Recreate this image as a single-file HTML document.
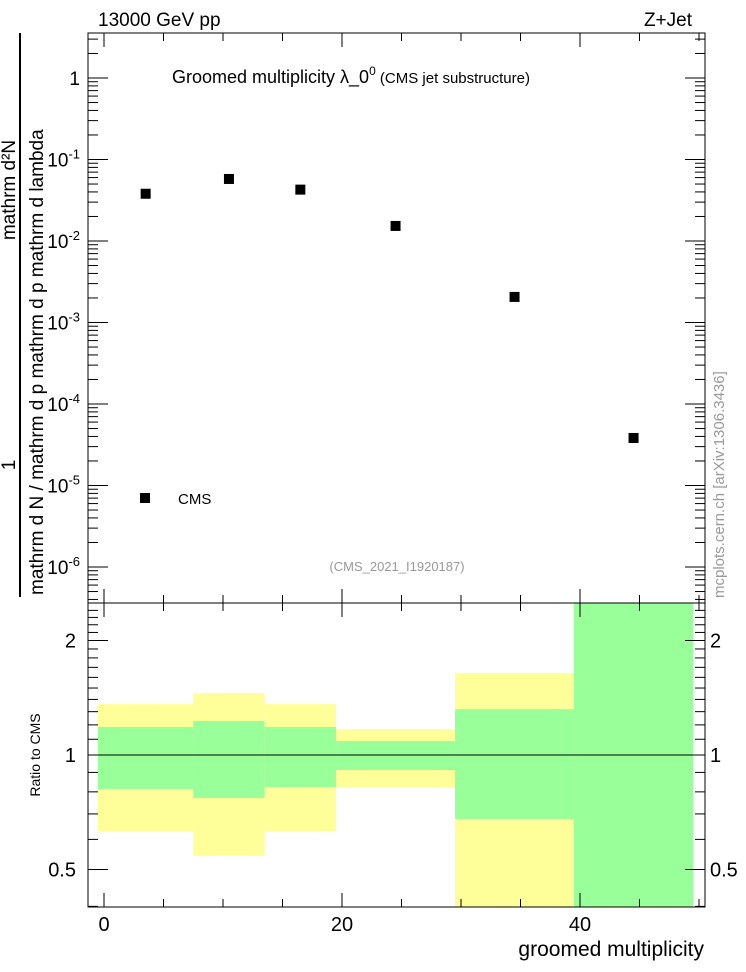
<!DOCTYPE html>
<html><head><meta charset="utf-8"><style>
body{margin:0;background:#fff;}
svg{display:block;font-family:"Liberation Sans",sans-serif;}
</style></head><body>
<svg id="c" width="746" height="972" viewBox="0 0 746 972" xmlns="http://www.w3.org/2000/svg">
<g id="bands"></g>
<g id="marks"></g>
<g id="axes"></g>
<text x="98" y="26" font-size="19">13000 GeV pp</text>
<text x="692" y="26" font-size="19" text-anchor="end">Z+Jet</text>
<text x="172" y="83" font-size="18">Groomed multiplicity  λ_0<tspan dy="-8" font-size="12">0</tspan><tspan dy="8" font-size="15"> (CMS jet substructure)</tspan></text>
<text x="397" y="571" font-size="13" fill="#999" text-anchor="middle">(CMS_2021_I1920187)</text>
<text transform="translate(724,598) rotate(-90)" font-size="15" fill="#999">mcplots.cern.ch [arXiv:1306.3436]</text>
<rect x="140" y="493" width="10" height="10" fill="#000"/>
<text x="178" y="504" font-size="15">CMS</text>
<g font-size="19">
<line x1="20" y1="33" x2="20" y2="597" stroke="#000" stroke-width="2"/>
<text transform="translate(15,190) rotate(-90)" text-anchor="middle">mathrm d²N</text>
<text transform="translate(15,465) rotate(-90)" text-anchor="middle">1</text>
<text transform="translate(43,595) rotate(-90)" text-anchor="start">mathrm d N / mathrm d p   mathrm d p   mathrm d lambda</text>
</g>
<text transform="translate(40,755) rotate(-90)" font-size="14" text-anchor="middle">Ratio to CMS</text>
<text x="704" y="956" font-size="21" text-anchor="end">groomed multiplicity</text>
</svg>
<script>
const categories = [3.5, 10.5, 16.5, 24.5, 34.5, 44.5];
const binEdges = [-0.5, 7.5, 13.5, 19.5, 29.5, 39.5, 49.5];
const cmsValues = [0.038, 0.0577, 0.0427, 0.0153, 0.00206, 0.0000383];
const yellowLow = [0.63, 0.543, 0.63, 0.824, 0.3, 0.3];
const yellowHigh = [1.36, 1.455, 1.36, 1.17, 1.643, 3];
const greenLow = [0.814, 0.771, 0.824, 0.913, 0.679, 0.3];
const greenHigh = [1.185, 1.229, 1.185, 1.088, 1.32, 3];
const xTicks = [0, 20, 40];
const logTicks = [0, -1, -2, -3, -4, -5, -6];
const ratioTicks = [0.5, 1, 2];

const NS = "http://www.w3.org/2000/svg";
const L = 88, R = 705, T1 = 33, B1 = 603, T2 = 603, B2 = 907;
const xs = v => 104 + 11.9 * v;
const ys = v => 78 - 81.5 * Math.log10(v);
const yr = v => Math.min(B2, Math.max(T2, 755 - 114.5 * Math.log2(v)));
function mk(tag, attrs, parent) { const e = document.createElementNS(NS, tag); for (const k in attrs) e.setAttribute(k, attrs[k]); parent.appendChild(e); return e; }
const bands = document.getElementById('bands'), marks = document.getElementById('marks'), axes = document.getElementById('axes');

for (let i = 0; i < categories.length; i++) {
  const x0 = xs(binEdges[i]), x1 = xs(binEdges[i + 1]);
  const y = mk('rect', { x: x0, y: yr(yellowHigh[i]), width: x1 - x0, height: yr(yellowLow[i]) - yr(yellowHigh[i]), fill: '#ffff99' }, bands);
  
  
  const g = mk('rect', { x: x0, y: yr(greenHigh[i]), width: x1 - x0, height: yr(greenLow[i]) - yr(greenHigh[i]), fill: '#99ff99' }, bands);
  
  
  const p = mk('rect', { x: xs(categories[i]) - 5, y: ys(cmsValues[i]) - 5, width: 10, height: 10, fill: '#000' }, marks);
  
  
}
const ref = mk('line', { x1: L, x2: R, y1: yr(1), y2: yr(1), stroke: '#000', 'stroke-width': 1 }, axes);



function ln(x1, y1, x2, y2) { mk('line', { x1, y1, x2, y2, stroke: '#000', 'stroke-width': 1 }, axes); }
function tx(x, y, s, anchor, size) { const t = mk('text', { x, y, 'font-size': size || 19, 'text-anchor': anchor }, axes); t.textContent = s; return t; }
mk('rect', { x: L, y: T1, width: R - L, height: B1 - T1, fill: 'none', stroke: '#000' }, axes);
mk('rect', { x: L, y: T2, width: R - L, height: B2 - T2, fill: 'none', stroke: '#000' }, axes);
for (let v = 0; v <= 50; v += 5) {
  const x = xs(v); if (x > R) continue;
  const len = v % 20 === 0 ? 14 : 8;
  ln(x, B1, x, B1 - len); ln(x, T1, x, T1 + len);
  ln(x, B2, x, B2 - len); ln(x, T2, x, T2 + len);
}
xTicks.forEach(v => { const t = tx(xs(v), 931, String(v), 'middle', 20);  });
for (let d = -7; d <= 0; d++) {
  for (let m = 1; m < 10; m++) {
    const y = ys(m * Math.pow(10, d)); if (y < T1 || y > B1) continue;
    const len = m === 1 ? 20 : 10;
    ln(L, y, L + len, y); ln(R, y, R - len, y);
  }
}
logTicks.forEach(e => {
  const y = ys(Math.pow(10, e));
  if (e === 0) { tx(80, y + 7, '1', 'end', 19); }
  else {
    const t = mk('text', { x: 80, y: y + 7, 'font-size': 19, 'text-anchor': 'end' }, axes);
    t.innerHTML = '10<tspan dy="-8" font-size="13">' + e + '</tspan>';
  }
});
for (let v = 0.4; v <= 2.5; v += 0.1) {
  const y = yr(v); if (y <= T2 || y >= B2) continue;
  const major = [0.5, 1, 2].some(r => Math.abs(r - v) < 1e-6);
  const len = major ? 20 : 10;
  ln(L, y, L + len, y); ln(R, y, R - len, y);
}
ratioTicks.forEach(v => {
  tx(76, yr(v) + 7, String(v), 'end', 20);
  tx(710, yr(v) + 7, String(v), 'start', 20);
});
</script>
</body></html>
